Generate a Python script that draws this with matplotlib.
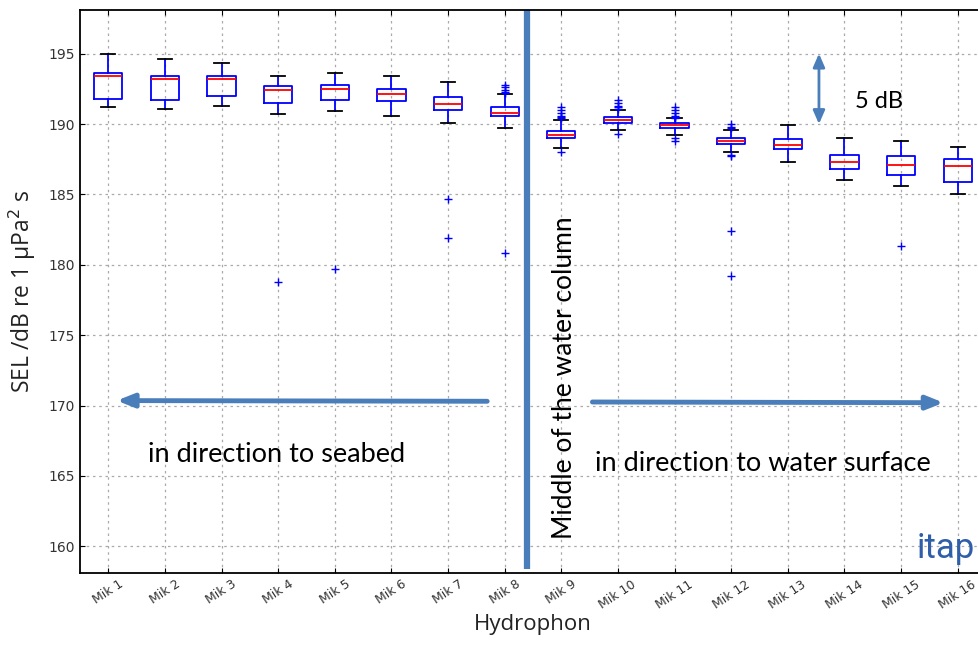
import matplotlib
matplotlib.use("Agg")
import matplotlib.pyplot as plt

labels = ["Mik 1", "Mik 2", "Mik 3", "Mik 4", "Mik 5", "Mik 6", "Mik 7", "Mik 8",
          "Mik 9", "Mik 10", "Mik 11", "Mik 12", "Mik 13", "Mik 14", "Mik 15", "Mik 16"]
whislo = [191.2, 191.1, 191.3, 190.7, 190.9, 190.6, 190.1, 189.7,
          188.3, 189.6, 189.2, 188.0, 187.3, 186.0, 185.6, 185.0]
q1 = [191.8, 191.7, 192.0, 191.5, 191.7, 191.6, 191.0, 190.6,
      189.0, 190.1, 189.7, 188.6, 188.2, 186.8, 186.4, 185.9]
med = [193.4, 193.2, 193.2, 192.4, 192.5, 192.1, 191.4, 190.8,
       189.2, 190.3, 189.9, 188.8, 188.5, 187.3, 187.1, 187.0]
q3 = [193.6, 193.4, 193.4, 192.7, 192.8, 192.5, 191.9, 191.2,
      189.5, 190.5, 190.1, 189.0, 188.9, 187.8, 187.7, 187.5]
whishi = [195.0, 194.6, 194.3, 193.4, 193.6, 193.4, 193.0, 192.1,
          190.3, 191.0, 190.4, 189.6, 189.9, 189.0, 188.8, 188.4]
fliers = [[], [], [], [178.8], [179.7], [], [184.7, 181.9],
          [192.2, 192.3, 192.4, 192.6, 192.8, 180.8],
          [190.4, 190.5, 190.6, 190.8, 191.0, 191.2, 188.0],
          [191.1, 191.2, 191.3, 191.5, 191.7, 189.3],
          [190.4, 190.5, 190.6, 190.8, 191.0, 191.2, 189.0, 188.8],
          [189.7, 189.8, 190.0, 187.8, 187.7, 182.4, 179.2],
          [], [], [181.3], []]

fig = plt.figure(figsize=(9.79, 6.49), dpi=100)
ax = fig.add_axes([80/979, 76/649, 906/979, 563/649])

stats = []
for i in range(len(labels)):
    stats.append(dict(label=labels[i], whislo=whislo[i], q1=q1[i], med=med[i],
                      q3=q3[i], whishi=whishi[i], fliers=fliers[i]))

ax.bxp(stats, positions=range(1, len(labels) + 1), widths=0.5,
       boxprops=dict(color="blue", linewidth=1.3),
       whiskerprops=dict(color="blue", linewidth=1.3),
       capprops=dict(color="black", linewidth=1.3),
       medianprops=dict(color="red", linewidth=1.3),
       flierprops=dict(marker="+", markeredgecolor="blue", markersize=6, linestyle="none"))

ax.set_xlim(0.5, 16.5)
ax.set_ylim(158.1, 198.1)
ax.set_yticks([160, 165, 170, 175, 180, 185, 190, 195])
ax.set_xticks(range(1, 17))
ax.set_xticklabels(labels, rotation=33, fontsize=9, color="#333333")
ax.tick_params(axis="y", labelsize=10, labelcolor="#333333")
ax.tick_params(direction="in", top=True, right=True)
ax.grid(True, color="#aaaaaa", linestyle=(0, (2, 3)), linewidth=0.9)
ax.set_axisbelow(True)
for s in ax.spines.values():
    s.set_linewidth(1.3)

ax.set_ylabel("SEL /dB re 1 µPa$^2$ s", fontsize=16.5, family="Open Sans", color="#222222",
              labelpad=8)
ax.set_xlabel("Hydrophon", fontsize=16, family="Open Sans", color="#222222", labelpad=2)

blue = "#4a7ebb"
# middle vertical line
ax.plot([8.39, 8.39], [198.1, 158.4], color=blue, lw=4.5, solid_capstyle="butt", clip_on=False)
# arrows
ax.annotate("", xy=(1.1, 170.35), xytext=(7.74, 170.3),
            arrowprops=dict(arrowstyle="-|>,head_length=1.0,head_width=0.4", color=blue, lw=3.5))
ax.annotate("", xy=(15.8, 170.2), xytext=(9.5, 170.25),
            arrowprops=dict(arrowstyle="-|>,head_length=1.0,head_width=0.4", color=blue, lw=3.5))
ax.annotate("", xy=(13.55, 195.2), xytext=(13.55, 189.8),
            arrowprops=dict(arrowstyle="<|-|>,head_length=0.8,head_width=0.35", color=blue, lw=2))

tf = "Lato"
ax.text(1.7, 166.5, "in direction to seabed", fontsize=19.5, family=tf, va="center", ha="left")
ax.text(9.59, 165.9, "in direction to water surface", fontsize=19.5, family=tf, va="center", ha="left")
ax.text(9.05, 172.0, "Middle of the water column", fontsize=19, family=tf, rotation=90,
        va="center", ha="center")
ax.text(14.18, 191.6, "5 dB", fontsize=17, family=tf, va="center", ha="left")
ax.text(15.27, 159.2, "itap", fontsize=25, family="Roboto", color="#2f5fa8", va="baseline", ha="left")

fig.savefig("out.png", dpi=100)
